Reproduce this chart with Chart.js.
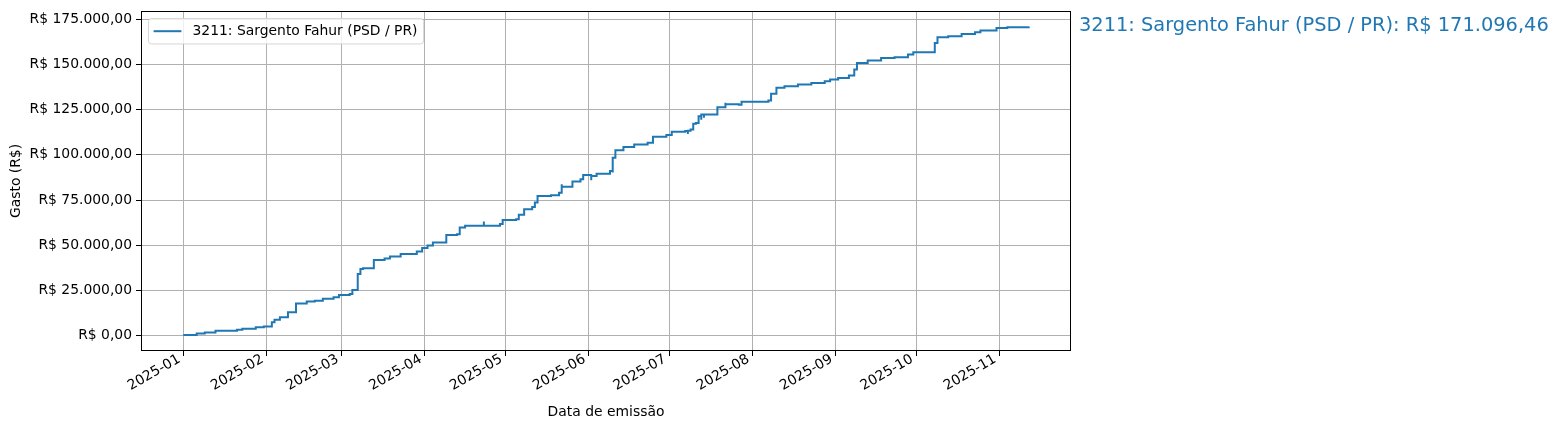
<!DOCTYPE html>
<html>
<head>
<meta charset="utf-8">
<script src="https://cdn.jsdelivr.net/npm/chart.js@4.4.1/dist/chart.umd.min.js"></script>
<style>
  body { margin: 0; background: #fff; }
  #wrap { width: 1560px; height: 430px; }
</style>
</head>
<body>
<div id="wrap"><canvas id="gastoChart" width="1560" height="430"></canvas></div>
<script>
// ------ dados -------------------------------
var serieLabel = "3211: Sargento Fahur (PSD / PR)";

var dates = [
  "2025-01-01","2025-01-06","2025-01-09","2025-01-13","2025-01-21","2025-01-23","2025-01-28","2025-01-31",
  "2025-02-03","2025-02-04","2025-02-06","2025-02-09","2025-02-12","2025-02-16","2025-02-19","2025-02-22",
  "2025-02-26","2025-02-28","2025-03-04","2025-03-05","2025-03-07","2025-03-08","2025-03-09","2025-03-13",
  "2025-03-17","2025-03-19","2025-03-23","2025-03-29","2025-03-31","2025-04-02","2025-04-04","2025-04-09",
  "2025-04-13","2025-04-14","2025-04-16","2025-04-23","2025-04-23","2025-04-29","2025-04-30","2025-05-05",
  "2025-05-06","2025-05-08","2025-05-11","2025-05-12","2025-05-13","2025-05-18","2025-05-21","2025-05-22",
  "2025-05-22","2025-05-26","2025-05-29","2025-05-30","2025-06-02","2025-06-02","2025-06-04","2025-06-09",
  "2025-06-10","2025-06-10","2025-06-11","2025-06-14","2025-06-18","2025-06-23","2025-06-25","2025-06-30",
  "2025-07-02","2025-07-07","2025-07-08","2025-07-08","2025-07-09","2025-07-10","2025-07-11","2025-07-12",
  "2025-07-13","2025-07-13","2025-07-14","2025-07-14","2025-07-19","2025-07-22","2025-07-22","2025-07-27",
  "2025-07-28","2025-08-07","2025-08-08","2025-08-10","2025-08-13","2025-08-18","2025-08-23","2025-08-28",
  "2025-08-30","2025-09-02","2025-09-06","2025-09-08","2025-09-09","2025-09-13","2025-09-18","2025-09-23",
  "2025-09-28","2025-09-30","2025-10-08","2025-10-08","2025-10-09","2025-10-13","2025-10-18","2025-10-23",
  "2025-10-25","2025-10-31","2025-11-04","2025-11-12"
];

var gastos = [
  350, 1150, 1650, 2600, 3150, 3700, 4600, 5000,
  7300, 8700, 10100, 12900, 17800, 18800, 19300, 20300,
  21150, 22450, 23000, 25200, 34000, 36800, 37300, 41800,
  42700, 43800, 45100, 46500, 48400, 49900, 51500, 55600,
  56100, 59800, 60700, 63100, 60800, 61700, 63900, 64400,
  66800, 69900, 71200, 73600, 77300, 77700, 79100, 83700,
  82400, 85200, 86500, 88900, 86000, 88300, 89600, 91100,
  90300, 98400, 102500, 104300, 105800, 106700, 110000, 111000,
  112800, 113200, 111500, 113300, 114100, 117200, 117700, 121400,
  119500, 122300, 120500, 122400, 126400, 128800, 128000, 127700,
  129400, 130100, 133800, 137100, 138000, 138900, 139800, 140800,
  141700, 142600, 143900, 147200, 150900, 152200, 153600, 154000,
  155500, 156800, 157900, 161900, 165100, 165600, 166900, 167800,
  168900, 170200, 170600, 171096.46
];

var monthTicks = ["2025-01","2025-02","2025-03","2025-04","2025-05","2025-06",
                  "2025-07","2025-08","2025-09","2025-10","2025-11"];
var yTicks = [0, 25000, 50000, 75000, 100000, 125000, 150000, 175000];

// ------ helpers ------------
function brl(v, dec) {
  var neg = v < 0;
  var parts = Math.abs(v).toFixed(dec).split(".");
  var inteiro = parts[0].replace(/\B(?=(\d{3})+(?!\d))/g, ".");
  return (neg ? "-" : "") + "R$ " + inteiro + (dec ? "," + parts[1] : "");
}

var points = dates.map(function (d, i) {
  return { x: Date.parse(d), y: gastos[i] };
});

// margens de 5% como no matplotlib
var xFirst = points[0].x, xLast = points[points.length - 1].x;
var xPad = (xLast - xFirst) * 0.05;
var yMaxData = Math.max.apply(null, gastos);
var yMinData = Math.min(0, Math.min.apply(null, gastos));
var yPad = (yMaxData - yMinData) * 0.05;

var FONT = "DejaVu Sans";
var BLUE = "#1f77b4";
Chart.defaults.font.family = FONT;
Chart.defaults.font.size = 13.9;
Chart.defaults.color = "#000";

// moldura (spines), legenda e anotacao
var extras = {
  id: "extras",
  afterDatasetsDraw: function (chart) {
    var ctx = chart.ctx, a = chart.chartArea;
    ctx.save();
    // legenda
    ctx.font = "13.9px " + FONT;
    var tw = ctx.measureText(serieLabel).width;
    var bx = a.left + 7, by = a.top + 7;
    var bw = 5.6 + 27.8 + 11.1 + tw + 5.6, bh = 25.5;
    ctx.beginPath();
    ctx.roundRect(bx + 0.5, by + 0.5, bw, bh, 3);
    ctx.fillStyle = "rgba(255,255,255,0.8)";
    ctx.fill();
    ctx.strokeStyle = "rgba(204,204,204,0.8)";
    ctx.lineWidth = 1;
    ctx.stroke();
    ctx.beginPath();
    ctx.moveTo(bx + 5.6, by + bh / 2 + 0.5);
    ctx.lineTo(bx + 5.6 + 27.8, by + bh / 2 + 0.5);
    ctx.strokeStyle = BLUE;
    ctx.lineWidth = 2;
    ctx.stroke();
    ctx.fillStyle = "#000";
    ctx.textBaseline = "middle";
    ctx.textAlign = "left";
    ctx.fillText(serieLabel, bx + 5.6 + 27.8 + 11.1, by + bh / 2 + 1);
    ctx.restore();
  },
  afterDraw: function (chart) {
    var ctx = chart.ctx, a = chart.chartArea;
    ctx.save();
    ctx.strokeStyle = "#000";
    ctx.lineWidth = 1;
    ctx.strokeRect(Math.round(a.left) + 0.5, Math.round(a.top) + 0.5,
                   Math.round(a.right - a.left) - 1, Math.round(a.bottom - a.top) - 1);
    // total no fim da serie
    var last = gastos[gastos.length - 1];
    var y = chart.scales.y.getPixelForValue(last);
    ctx.font = "19.4px " + FONT;
    ctx.fillStyle = BLUE;
    ctx.textBaseline = "middle";
    ctx.textAlign = "left";
    ctx.fillText(serieLabel + ": " + brl(last, 2), a.right + 8, y);
    ctx.restore();
  }
};

var gastoChart = new Chart("gastoChart", {
  type: "line",
  data: {
    datasets: [{
      label: serieLabel,
      data: points,
      stepped: true,
      borderColor: BLUE,
      backgroundColor: BLUE,
      borderWidth: 2,
      pointRadius: 0,
      fill: false
    }]
  },
  options: {
    responsive: false,
    animation: false,
    layout: { padding: { top: 10, right: 489, bottom: 0, left: 0 } },
    plugins: {
      legend: { display: false },
      tooltip: { enabled: false }
    },
    scales: {
      x: {
        type: "linear",
        min: xFirst - xPad,
        max: xLast + xPad,
        afterBuildTicks: function (scale) {
          scale.ticks = monthTicks.map(function (m) { return { value: Date.parse(m + "-01") }; });
        },
        afterFit: function (scale) { scale.height = 79; },
        ticks: {
          autoSkip: false,
          minRotation: 30,
          maxRotation: 30,
          padding: -5,
          labelOffset: -4,
          callback: function (value) {
            var d = new Date(value);
            return d.getUTCFullYear() + "-" + String(d.getUTCMonth() + 1).padStart(2, "0");
          }
        },
        grid: { color: "#b0b0b0", lineWidth: 1, tickColor: "#000", tickLength: 5 },
        border: { display: false },
        title: { display: true, text: "Data de emissão", padding: { top: 0, bottom: 9 } }
      },
      y: {
        min: yMinData - yPad,
        max: yMaxData + yPad,
        afterBuildTicks: function (scale) {
          scale.ticks = yTicks.map(function (v) { return { value: v }; });
        },
        afterFit: function (scale) { scale.width = 141; },
        ticks: {
          padding: 4,
          font: { lineHeight: 1 },
          callback: function (value) { return brl(value, 2); }
        },
        grid: { color: "#b0b0b0", lineWidth: 1, tickColor: "#000", tickLength: 5 },
        border: { display: false },
        title: { display: true, text: "Gasto (R$)", padding: { top: 8, bottom: 0 } }
      }
    }
  },
  plugins: [extras]
});
</script>
</body>
</html>
